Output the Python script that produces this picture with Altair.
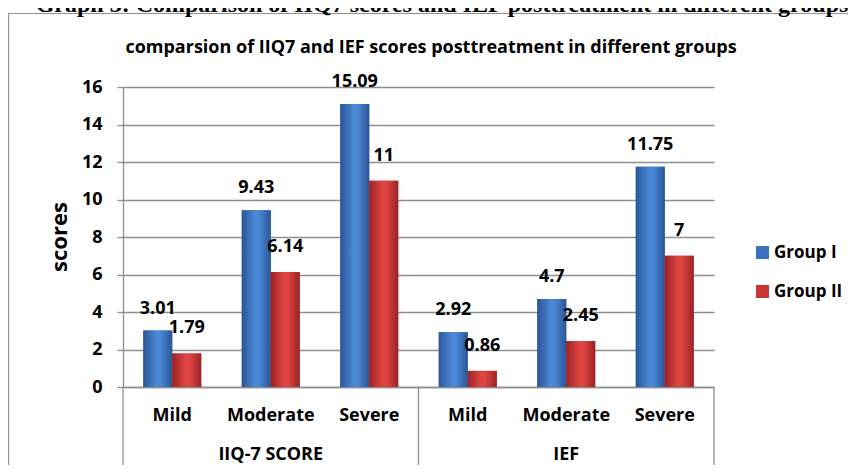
import altair as alt
import pandas as pd

# ---- data ----
measures = ["IIQ-7 SCORE", "IEF"]
severity = ["Mild", "Moderate", "Severe"]
groups = ["Group I", "Group II"]
group1_values = [3.01, 9.43, 15.09, 2.92, 4.7, 11.75]
group2_values = [1.79, 6.14, 11, 0.86, 2.45, 7]
y_ticks = [0, 2, 4, 6, 8, 10, 12, 14, 16]

heading = "Graph 3: Comparison of IIQ7 scores and IEF posttreatment in different groups"
inner_title = "comparsion of IIQ7 and IEF scores posttreatment in different groups"
y_title = "scores"

keys = [f"{m}|{s}" for m in measures for s in severity]

rows = []
for k, v in zip(keys, group1_values):
    rows.append({"key": k, "group": groups[0], "value": v, "label": f"{v:g}"})
for k, v in zip(keys, group2_values):
    rows.append({"key": k, "group": groups[1], "value": v, "label": f"{v:g}"})
df = pd.DataFrame(rows)

FONT = "Open Sans"
W, H = 591, 300
GRAY = "#8f8f8f"

xscale = alt.Scale(domain=keys, paddingInner=0, paddingOuter=0)
xoff = alt.XOffset("group:N", scale=alt.Scale(domain=groups, paddingInner=0, paddingOuter=0.7))
yscale = alt.Scale(domain=[0, 16], nice=False)

x_axis = alt.Axis(
    labelExpr="split(datum.label, '|')[1]", labelAngle=0, ticks=False,
    labelFont=FONT, labelFontSize=18, labelFontWeight="bold", labelColor="black",
    labelPadding=19, domainColor=GRAY, domainWidth=1.3, grid=False,
)
y_axis = alt.Axis(
    values=y_ticks, grid=True, gridColor=GRAY, gridWidth=1.3,
    tickColor=GRAY, tickSize=6, tickWidth=1.3, domainColor=GRAY, domainWidth=1.3,
    labelFont=FONT, labelFontSize=18, labelFontWeight="bold", labelColor="black",
    labelPadding=15,
)
x_main = alt.X("key:N", scale=xscale, sort=keys, title=None, axis=x_axis)
y_main = alt.Y("value:Q", scale=yscale, title=None, axis=y_axis)

base = alt.Chart(df)

# solid bars carrying the legend
bars = base.mark_bar().encode(
    x=x_main, y=y_main, xOffset=xoff,
    color=alt.Color(
        "group:N",
        scale=alt.Scale(domain=groups, range=["#3a72bf", "#c83535"]),
        legend=alt.Legend(
            title=None, orient="none", legendX=631, legendY=157,
            symbolType="square", symbolSize=169, symbolStrokeWidth=0,
            labelFont=FONT, labelFontSize=17, labelFontWeight="bold", labelColor="black",
            labelOffset=3, rowPadding=21, padding=0,
        ),
    ),
)

def grad(c_edge, c_mid):
    return alt.Gradient(
        gradient="linear", x1=0, x2=1, y1=0, y2=0,
        stops=[alt.GradientStop(color=c_edge, offset=0),
               alt.GradientStop(color=c_mid, offset=0.45),
               alt.GradientStop(color=c_mid, offset=0.6),
               alt.GradientStop(color=c_edge, offset=1)],
    )

bars_g1 = base.transform_filter(alt.datum.group == groups[0]).mark_bar(
    color=grad("#2a5597", "#4a87d4")).encode(x=x_main, y=y_main, xOffset=xoff)
bars_g2 = base.transform_filter(alt.datum.group == groups[1]).mark_bar(
    color=grad("#9c2225", "#de4442")).encode(x=x_main, y=y_main, xOffset=xoff)

lab_style = dict(font=FONT, fontSize=18, fontWeight="bold", color="black", baseline="middle")
labels_g1 = base.transform_filter(alt.datum.group == groups[0]).mark_text(dy=-22, **lab_style).encode(
    x=x_main, y=y_main, xOffset=xoff, text="label:N")
labels_g2 = base.transform_filter(alt.datum.group == groups[1]).mark_text(dy=-25, **lab_style).encode(
    x=x_main, y=y_main, xOffset=xoff, text="label:N")

# measure (outer category) labels under the axis
meas_df = pd.DataFrame({"key": [f"{m}|Moderate" for m in measures], "name": measures})
meas_labels = alt.Chart(meas_df).mark_text(**lab_style).encode(
    x=x_main, y=alt.value(H + 68), text="name:N")

# separators of the two-level category axis
sep_start = alt.Chart(pd.DataFrame({"key": [f"{m}|Mild" for m in measures]})).mark_rule(
    color=GRAY, strokeWidth=1.3).encode(
    x=alt.X("key:N", scale=xscale, sort=keys, title=None, axis=x_axis, bandPosition=0),
    y=alt.value(H), y2=alt.value(H + 100))
sep_end = alt.Chart(pd.DataFrame({"key": [keys[-1]]})).mark_rule(
    color=GRAY, strokeWidth=1.3).encode(
    x=alt.X("key:N", scale=xscale, sort=keys, title=None, axis=x_axis, bandPosition=1),
    y=alt.value(H), y2=alt.value(H + 100))

# texts around the plot
ytitle = alt.Chart(pd.DataFrame({"t": [y_title]})).mark_text(
    angle=270, font=FONT, fontSize=22, fontWeight="bold", color="black",
    align="center", baseline="middle").encode(x=alt.value(-63), y=alt.value(H / 2), text="t:N")
ititle = alt.Chart(pd.DataFrame({"t": [inner_title]})).mark_text(
    font=FONT, fontSize=18, fontWeight="bold", color="black",
    align="center", baseline="middle").encode(x=alt.value(308), y=alt.value(-39), text="t:N")
head = alt.Chart(pd.DataFrame({"t": [heading]})).mark_text(
    font="Liberation Serif", fontSize=24, fontWeight="bold", color="black",
    align="center", baseline="alphabetic").encode(x=alt.value(319), y=alt.value(-75), text="t:N")

# outer frame (left and top edges visible)
frame_left = alt.Chart(pd.DataFrame({"t": [0]})).mark_rule(color=GRAY, strokeWidth=1.2).encode(
    x=alt.value(-114.5), y=alt.value(-73.5), y2=alt.value(H + 100))
frame_top = alt.Chart(pd.DataFrame({"t": [0]})).mark_rule(color=GRAY, strokeWidth=1.2).encode(
    x=alt.value(-114.5), x2=alt.value(W + 140), y=alt.value(-73.5))

chart = alt.layer(
    bars, frame_left, frame_top, sep_start, sep_end,
    bars_g1, bars_g2, labels_g1, labels_g2, meas_labels, ytitle, ititle, head,
).properties(
    width=W, height=H,
    autosize=alt.AutoSizeParams(type="none"),
    padding={"left": 115, "top": 79, "right": 134, "bottom": 78},
    background="white",
).configure_view(strokeWidth=0)

chart.save("out.html", embed_options={"renderer": "svg", "actions": False})
